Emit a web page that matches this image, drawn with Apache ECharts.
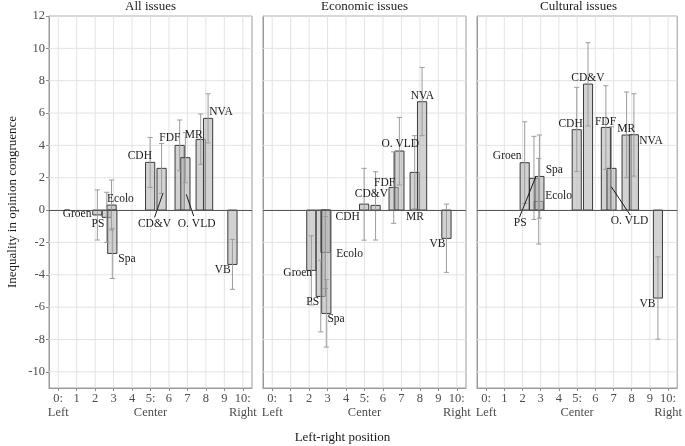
<!DOCTYPE html>
<html>
<head>
<meta charset="utf-8">
<script src="https://cdn.jsdelivr.net/npm/echarts@6/dist/echarts.min.js"></script>
<style>html,body{margin:0;padding:0;background:#fff;}#chart{width:685px;height:446px;}</style>
</head>
<body>
<div id="chart"></div>
<script>
// ---- data ----
const panelTitles = ['All issues', 'Economic issues', 'Cultural issues'];
const parties = ['Groen', 'PS', 'Ecolo', 'Spa', 'CDH', 'CD&V', 'FDF', 'O. VLD', 'MR', 'NVA', 'VB'];
const positions = [2.12, 2.63, 2.89, 2.93, 4.98, 5.6, 6.58, 6.89, 7.72, 8.12, 9.44];

const allValues = [-0.3, -0.45, 0.31, -2.68, 2.95, 2.58, 4.0, 3.24, 4.37, 5.67, -3.36];
const allLow    = [-1.85, -2.0, -1.24, -4.23, 1.4, 1.03, 2.43, 1.69, 2.83, 4.15, -4.9];
const allHigh   = [1.25, 1.1, 1.86, -1.13, 4.49, 4.12, 5.57, 4.8, 5.94, 7.19, -1.81];

const econValues = [-3.73, -5.34, -2.62, -6.39, 0.37, 0.29, 1.4, 3.65, 2.33, 6.7, -1.75];
const econLow    = [-5.87, -7.53, -4.85, -8.47, -1.86, -1.85, -0.82, 1.55, 0.08, 4.6, -3.85];
const econHigh   = [-1.59, -3.1, -0.4, -4.3, 2.58, 2.37, 3.6, 5.73, 4.6, 8.82, 0.37];

const cultValues = [2.93, 1.96, 0.54, 2.08, 4.97, 7.79, 5.11, 2.58, 4.64, 4.66, -5.44];
const cultLow    = [0.41, -0.58, -2.1, -0.5, 2.39, 5.2, 2.52, 0.0, 2.0, 2.1, -7.98];
const cultHigh   = [5.46, 4.56, 3.2, 4.64, 7.59, 10.35, 7.69, 5.15, 7.3, 7.19, -2.89];

const xTicks = [0, 1, 2, 3, 4, 5, 6, 7, 8, 9, 10];
const xTickNames = {0: 'Left', 5: 'Center', 10: 'Right'};
const yTicks = [-10, -8, -6, -4, -2, 0, 2, 4, 6, 8, 10, 12];

// ---- label layout (data coordinates of text centres, in party order) ----
const allLabelX  = [1.02, 2.15, 3.37, 3.72, 4.42, 5.22, 6.05, 7.5, 7.34, 8.82, 8.91];
const allLabelY  = [-0.25, -0.87, 0.68, -3.01, 3.36, -0.83, 4.43, -0.83, 4.64, 6.04, -3.71];
const econLabelX = [1.38, 2.19, 4.19, 3.46, 4.09, 5.37, 6.09, 6.94, 7.73, 8.14, 8.95];
const econLabelY = [-3.88, -5.71, -2.72, -6.74, -0.45, 0.99, 1.69, 4.06, -0.45, 7.05, -2.12];
const cultLabelX = [1.16, 1.87, 3.98, 3.75, 4.64, 5.59, 6.56, 7.88, 7.7, 9.06, 8.87];
const cultLabelY = [3.36, -0.78, 0.89, 2.47, 5.3, 8.18, 5.46, -0.66, 4.99, 4.25, -5.83];
// leader segments [x1, y1, x2, y2]
const allSegments  = [[5.67, 1.03, 5.22, -0.45], [6.94, 0.97, 7.34, -0.37]];
const econSegments = [];
const cultSegments = [[2.73, 2.06, 1.83, -0.45], [6.88, 1.44, 7.92, -0.31]];

const panels = [
  {values: allValues, low: allLow, high: allHigh, lx: allLabelX, ly: allLabelY, seg: allSegments},
  {values: econValues, low: econLow, high: econHigh, lx: econLabelX, ly: econLabelY, seg: econSegments},
  {values: cultValues, low: cultLow, high: cultHigh, lx: cultLabelX, ly: cultLabelY, seg: cultSegments}
];

// ---- layout / style ----
const FONT = '"Liberation Serif", "Times New Roman", serif';
const BAR_W = 0.5, CAP_W = 0.28;
const gridLefts = [49, 263, 477];
const GRID_W = 203, GRID_TOP = 16, GRID_H = 372;
const GRID_COLOR = '#e3e3e3';

const chart = echarts.init(document.getElementById('chart'), null, {renderer: 'canvas'});

const grids = [], xAxes = [], yAxes = [], series = [], titles = [];
panels.forEach((p, i) => {
  grids.push({left: gridLefts[i], top: GRID_TOP, width: GRID_W, height: GRID_H,
    show: true, borderColor: '#9a9a9a', borderWidth: 1, backgroundColor: '#fff', containLabel: false});
  xAxes.push({type: 'value', gridIndex: i, min: -0.5, max: 10.5,
    axisLine: {show: true, onZero: false, lineStyle: {color: '#9a9a9a'}},
    axisTick: {show: true, length: 3, customValues: xTicks, lineStyle: {color: '#8a8a8a'}},
    axisLabel: {show: true, customValues: xTicks, margin: 4, color: '#4d4d4d',
      fontFamily: FONT, fontSize: 12.5, lineHeight: 14,
      formatter: v => xTickNames[v] !== undefined ? v + ':\n' + xTickNames[v] : String(v)},
    splitLine: {show: false}
  });
  yAxes.push({type: 'value', gridIndex: i, min: -11, max: 12,
    axisLine: {show: true, onZero: false, lineStyle: {color: '#9a9a9a'}},
    axisTick: {show: i === 0, length: 3, customValues: yTicks, lineStyle: {color: '#8a8a8a'}},
    axisLabel: {show: i === 0, customValues: yTicks, margin: 4, color: '#4d4d4d',
      fontFamily: FONT, fontSize: 12.5},
    splitLine: {show: false}
  });
  titles.push({text: panelTitles[i], left: gridLefts[i] + GRID_W / 2, top: 0, padding: 0, textAlign: 'center',
    textStyle: {fontFamily: FONT, fontSize: 13, fontWeight: 'normal', color: '#1a1a1a'}});

  // horizontal grid lines (at y tick values)
  series.push({
    type: 'custom', xAxisIndex: i, yAxisIndex: i, data: yTicks.map(v => [v]), encode: {y: 0}, z: 1, silent: true,
    renderItem: (params, api) => {
      const cs = params.coordSys;
      const y = api.coord([0, api.value(0)])[1];
      return {type: 'line', shape: {x1: cs.x, y1: y, x2: cs.x + cs.width, y2: y},
        style: {stroke: GRID_COLOR, lineWidth: 1}};
    }
  });
  // vertical grid lines (at x tick values)
  series.push({
    type: 'custom', xAxisIndex: i, yAxisIndex: i, data: xTicks.map(v => [v]), encode: {x: 0}, z: 1, silent: true,
    renderItem: (params, api) => {
      const cs = params.coordSys;
      const x = api.coord([api.value(0), 0])[0];
      return {type: 'line', shape: {x1: x, y1: cs.y, x2: x, y2: cs.y + cs.height},
        style: {stroke: GRID_COLOR, lineWidth: 1}};
    }
  });

  const barData = positions.map((x, k) => [x, p.values[k], p.low[k], p.high[k]]);
  // bars
  series.push({
    type: 'custom', xAxisIndex: i, yAxisIndex: i, data: barData, encode: {x: 0, y: 1}, z: 2,
    renderItem: (params, api) => {
      const x = api.value(0), v = api.value(1);
      const a = api.coord([x - BAR_W / 2, Math.max(v, 0)]);
      const b = api.coord([x + BAR_W / 2, Math.min(v, 0)]);
      return {type: 'rect', shape: {x: a[0], y: a[1], width: b[0] - a[0], height: b[1] - a[1]},
        style: {fill: 'rgba(180,180,180,0.6)', stroke: '#3a3a3a', lineWidth: 1}};
    },
    markLine: {silent: true, symbol: 'none', label: {show: false},
      lineStyle: {color: '#555', type: 'solid', width: 1}, data: [{yAxis: 0}]}
  });
  // error bars
  series.push({
    type: 'custom', xAxisIndex: i, yAxisIndex: i, data: barData, encode: {x: 0, y: [2, 3]}, z: 3,
    renderItem: (params, api) => {
      const x = api.value(0);
      const lo = api.coord([x, api.value(2)]), hi = api.coord([x, api.value(3)]);
      const l1 = api.coord([x - CAP_W / 2, api.value(2)]), r1 = api.coord([x + CAP_W / 2, api.value(2)]);
      const l2 = api.coord([x - CAP_W / 2, api.value(3)]), r2 = api.coord([x + CAP_W / 2, api.value(3)]);
      const st = {stroke: '#9c9c9c', lineWidth: 1};
      return {type: 'group', children: [
        {type: 'line', shape: {x1: lo[0], y1: lo[1], x2: hi[0], y2: hi[1]}, style: st},
        {type: 'line', shape: {x1: l1[0], y1: l1[1], x2: r1[0], y2: r1[1]}, style: st},
        {type: 'line', shape: {x1: l2[0], y1: l2[1], x2: r2[0], y2: r2[1]}, style: st}
      ]};
    }
  });
  // leader segments
  series.push({
    type: 'custom', xAxisIndex: i, yAxisIndex: i, data: p.seg, encode: {x: [0, 2], y: [1, 3]}, z: 4,
    renderItem: (params, api) => {
      const a = api.coord([api.value(0), api.value(1)]), b = api.coord([api.value(2), api.value(3)]);
      return {type: 'line', shape: {x1: a[0], y1: a[1], x2: b[0], y2: b[1]}, style: {stroke: '#1a1a1a', lineWidth: 1}};
    }
  });
  // labels
  series.push({
    type: 'custom', xAxisIndex: i, yAxisIndex: i,
    data: parties.map((n, k) => [p.lx[k], p.ly[k], n]), encode: {x: 0, y: 1}, z: 5,
    renderItem: (params, api) => {
      const c = api.coord([api.value(0), api.value(1)]);
      return {type: 'text', x: c[0], y: c[1],
        style: {text: parties[params.dataIndex], fill: '#1a1a1a', font: '11.5px ' + FONT,
          align: 'center', verticalAlign: 'middle'}};
    }
  });
});

chart.setOption({
  animation: false,
  backgroundColor: '#fff',
  title: titles,
  grid: grids,
  xAxis: xAxes,
  yAxis: yAxes,
  series: series,
  graphic: [
    {type: 'text', left: 'center', x: 0, top: 431,
      style: {text: 'Left-right position', fill: '#1a1a1a', font: '13px ' + FONT}},
    {type: 'text', x: 13, y: 202, rotation: Math.PI / 2, originX: 0, originY: 0,
      style: {text: 'Inequality in opinion congruence', fill: '#1a1a1a', font: '13px ' + FONT,
        align: 'center', verticalAlign: 'middle'}}
  ]
});
</script>
</body>
</html>
